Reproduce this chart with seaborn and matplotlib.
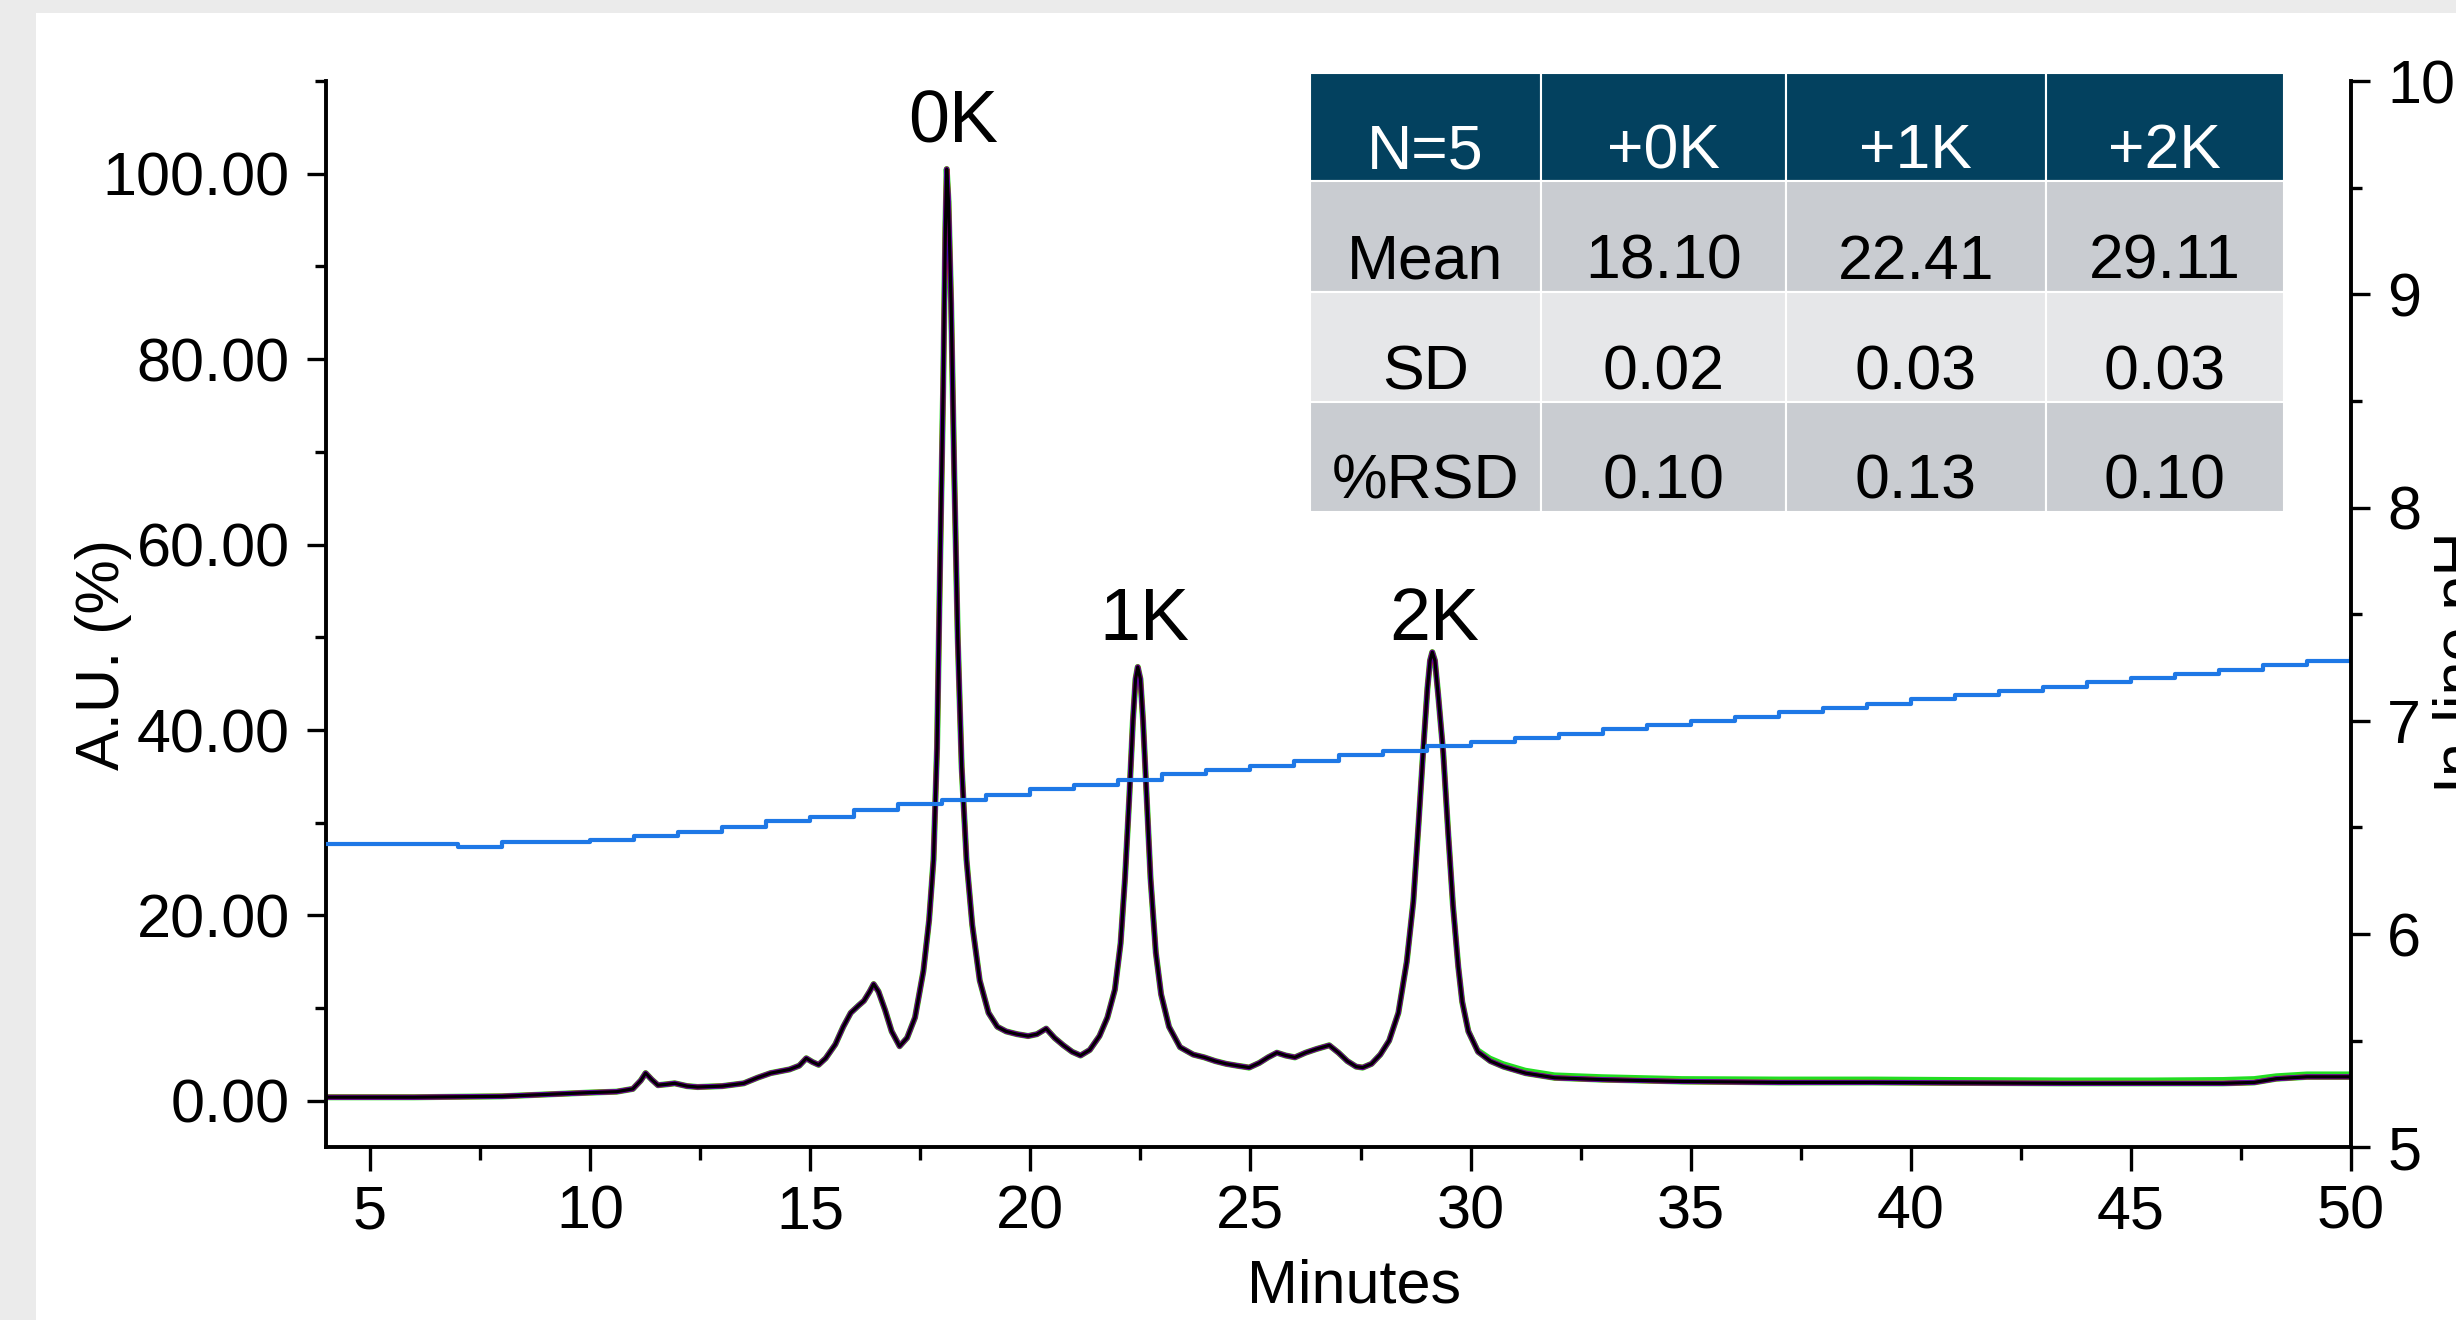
import matplotlib
matplotlib.use("Agg")
import matplotlib.pyplot as plt
from matplotlib.patches import Rectangle
from matplotlib.ticker import MultipleLocator, FormatStrFormatter
import pandas as pd
import seaborn as sns

minutes = [4.00, 6.00, 8.00, 9.00, 10.00, 10.60, 10.97, 11.15, 11.26, 11.40, 11.54, 11.75,
           11.92, 12.20, 12.44, 13.00, 13.49, 13.80, 14.10, 14.53, 14.75, 14.91, 15.05, 15.19,
           15.35, 15.57, 15.75, 15.92, 16.10, 16.22, 16.35, 16.44, 16.55, 16.70, 16.85, 17.03,
           17.20, 17.38, 17.57, 17.70, 17.80, 17.88, 17.95, 18.02, 18.07, 18.10, 18.14, 18.20,
           18.27, 18.35, 18.44, 18.55, 18.68, 18.85, 19.05, 19.25, 19.45, 19.70, 19.95, 20.15,
           20.36, 20.55, 20.75, 20.95, 21.14, 21.35, 21.57, 21.75, 21.92, 22.05, 22.15, 22.25,
           22.33, 22.39, 22.44, 22.50, 22.56, 22.64, 22.73, 22.85, 22.97, 23.15, 23.40, 23.70,
           23.95, 24.20, 24.45, 24.70, 24.97, 25.20, 25.40, 25.60, 25.80, 26.01, 26.25, 26.50,
           26.79, 27.00, 27.20, 27.40, 27.55, 27.75, 27.95, 28.15, 28.36, 28.55, 28.70, 28.82,
           28.93, 29.02, 29.08, 29.13, 29.19, 29.27, 29.38, 29.49, 29.60, 29.72, 29.81, 29.95,
           30.17, 30.45, 30.75, 31.25, 31.91, 33.00, 34.80, 37.00, 39.14, 41.00, 43.47, 45.50,
           47.09, 47.80, 48.30, 49.00, 50.00]
au_trace = [0.4, 0.4, 0.5, 0.7, 0.9, 1.0, 1.3, 2.2, 3.0, 2.3, 1.7, 1.8,
            1.9, 1.6, 1.5, 1.6, 1.9, 2.5, 3.0, 3.4, 3.8, 4.6, 4.2, 3.9,
            4.6, 6.1, 8.0, 9.5, 10.3, 10.8, 11.8, 12.6, 11.8, 9.8, 7.5, 5.9,
            6.8, 9.0, 14.0, 19.5, 26.0, 38.0, 58.0, 77.0, 94.0, 100.5, 97.0, 86.0,
            68.0, 50.0, 36.0, 26.0, 19.0, 13.0, 9.5, 8.0, 7.5, 7.2, 7.0, 7.2,
            7.8, 6.8, 6.0, 5.3, 4.9, 5.5, 7.0, 9.0, 12.0, 17.0, 24.0, 33.0,
            41.0, 45.5, 46.8, 45.5, 41.0, 33.0, 24.0, 16.0, 11.5, 8.0, 5.8, 5.0,
            4.7, 4.3, 4.0, 3.8, 3.6, 4.1, 4.7, 5.2, 4.9, 4.7, 5.2, 5.6,
            6.0, 5.2, 4.3, 3.7, 3.6, 4.0, 5.0, 6.5, 9.5, 15.0, 21.5, 30.0,
            38.2, 44.5, 47.5, 48.4, 47.5, 43.5, 37.5, 29.0, 21.1, 14.5, 10.7, 7.5,
            5.3, 4.3, 3.7, 3.0, 2.5, 2.3, 2.1, 2.0, 2.0, 1.95, 1.9, 1.9,
            1.9, 2.0, 2.4, 2.6, 2.6]

# la inyeccion verde queda algo por encima en la cola
tail_minutes = [29.95, 30.17, 30.45, 30.75, 31.25, 31.91, 33.00, 34.80, 37.00, 39.14,
                41.00, 43.47, 45.50, 47.09, 47.80, 48.30, 49.00, 50.00]
au_green_tail = [7.8, 5.6, 4.7, 4.1, 3.4, 2.9, 2.7, 2.5, 2.45, 2.45,
                 2.4, 2.35, 2.35, 2.4, 2.5, 2.8, 3.0, 3.0]

run_colors = ["#22dd22", "#e01010", "#1010e0", "#880088", "#000000"]
run_widths = [4.4, 3.8, 3.4, 3.0, 2.3]

# pH en linea (gradiente)
ph_minutes = list(range(4, 51))
ph_values = [6.42, 6.42, 6.42, 6.41, 6.43, 6.43, 6.44, 6.46, 6.48, 6.50, 6.53, 6.55,
             6.58, 6.61, 6.63, 6.65, 6.68, 6.70, 6.72, 6.75, 6.77, 6.79, 6.81, 6.84,
             6.86, 6.88, 6.90, 6.92, 6.94, 6.96, 6.98, 7.00, 7.02, 7.04, 7.06, 7.08,
             7.10, 7.12, 7.14, 7.16, 7.18, 7.20, 7.22, 7.24, 7.26, 7.28, 7.30]

peak_names = ["0K", "1K", "2K"]
peak_label_min = [18.24, 22.60, 29.18]
peak_label_au = [103.4, 49.7, 49.7]

# tabla de tiempos de retencion
table_header = ["N=5", "+0K", "+1K", "+2K"]
table_rows = ["Mean", "SD", "%RSD"]
mean_rt = [18.10, 22.41, 29.11]
sd_rt = [0.02, 0.03, 0.03]
rsd_rt = [0.10, 0.13, 0.10]

# --- estilo ---
sns.set_theme(style="ticks")
plt.rcParams["font.family"] = ["Liberation Sans", "DejaVu Sans"]
plt.rcParams.update({"axes.edgecolor": "black", "xtick.color": "black",
                     "ytick.color": "black", "text.color": "black",
                     "axes.labelcolor": "black"})

W, H = 2456, 1320
fig = plt.figure(figsize=(W / 100, H / 100), dpi=100, facecolor="#ebebeb")
fig.patches.append(Rectangle((36 / W, 0), 1, 1 - 13 / H, transform=fig.transFigure,
                             facecolor="white", edgecolor="none", zorder=-10))

ax = fig.add_axes([326 / W, 1 - 1147.3 / H, 2025 / W, 1066.3 / H])
ax.set_facecolor("white")

df = pd.DataFrame({"Minutes": minutes, "AU": au_trace})
sns.lineplot(x=tail_minutes, y=au_green_tail, color=run_colors[0], lw=2.4, ax=ax)
for color, lw in zip(run_colors, run_widths):
    sns.lineplot(data=df, x="Minutes", y="AU", color=color, lw=lw, ax=ax,
                 sort=False, estimator=None)

for name, x, y in zip(peak_names, peak_label_min, peak_label_au):
    ax.text(x, y, name, ha="center", va="baseline", fontsize=53)

ax.set_xlim(4, 50)
ax.set_ylim(-5, 110)
ax.xaxis.set_major_locator(MultipleLocator(5))
ax.xaxis.set_minor_locator(MultipleLocator(2.5))
ax.yaxis.set_major_locator(MultipleLocator(20))
ax.yaxis.set_minor_locator(MultipleLocator(10))
ax.yaxis.set_major_formatter(FormatStrFormatter("%.2f"))
for s in ["top", "right"]:
    ax.spines[s].set_visible(False)
for s in ["left", "bottom"]:
    ax.spines[s].set_linewidth(2.8)
ax.tick_params(axis="x", which="major", direction="out", length=17, width=2.4,
               labelsize=44, pad=10)
ax.tick_params(axis="x", which="minor", direction="out", length=9, width=2.4)
ax.tick_params(axis="y", which="major", direction="out", length=14, width=2.4,
               labelsize=44, pad=12, right=False)
ax.tick_params(axis="y", which="minor", direction="out", length=8, width=2.4, right=False)
ax.set_xlabel("Minutes", fontsize=44)
ax.xaxis.set_label_coords(0.5077, -0.104)
ax.set_ylabel("A.U. (%)", fontsize=44)
ax.yaxis.set_label_coords(-0.0958, 0.462)

# eje derecho: pH
ax2 = ax.twinx()
sns.lineplot(x=ph_minutes, y=ph_values, drawstyle="steps-post", color="#1e78e6",
             lw=3.0, ax=ax2)
ax2.set_ylim(5, 10)
ax2.yaxis.set_major_locator(MultipleLocator(1))
ax2.yaxis.set_minor_locator(MultipleLocator(0.5))
for s in ["top", "left", "bottom"]:
    ax2.spines[s].set_visible(False)
ax2.spines["right"].set_linewidth(2.8)
ax2.tick_params(axis="y", which="major", direction="out", length=14, width=2.4,
                labelsize=44, pad=12)
ax2.tick_params(axis="y", which="minor", direction="out", length=8, width=2.4)
ax2.set_ylabel("In-line pH", fontsize=44)
ax2.yaxis.set_label_coords(1.0405, 0.455)

# tabla (coordenadas de ejes)
col_edges = [0.4859, 0.5999, 0.7208, 0.8494, 0.9667]
row_edges = [1.0078, 0.9062, 0.8024, 0.6987, 0.5961]
row_fills = ["#03415f", "#c9ccd1", "#e6e7e9", "#c9ccd1"]
cells = [table_header]
for label, vals in zip(table_rows, [mean_rt, sd_rt, rsd_rt]):
    cells.append([label] + [f"{v:.2f}" for v in vals])

for r, row in enumerate(cells):
    top, bottom = row_edges[r], row_edges[r + 1]
    for c, txt in enumerate(row):
        left, right = col_edges[c], col_edges[c + 1]
        ax2.add_patch(Rectangle((left, bottom), right - left, top - bottom,
                                transform=ax2.transAxes, facecolor=row_fills[r],
                                edgecolor="white", lw=1.5, clip_on=False, zorder=5))
        ax2.text((left + right) / 2, bottom + 0.117 * (top - bottom), txt,
                 transform=ax2.transAxes, ha="center", va="baseline", fontsize=45,
                 color="white" if r == 0 else "black", zorder=6, clip_on=False)

fig.savefig("out.png", dpi=100, facecolor=fig.get_facecolor())
